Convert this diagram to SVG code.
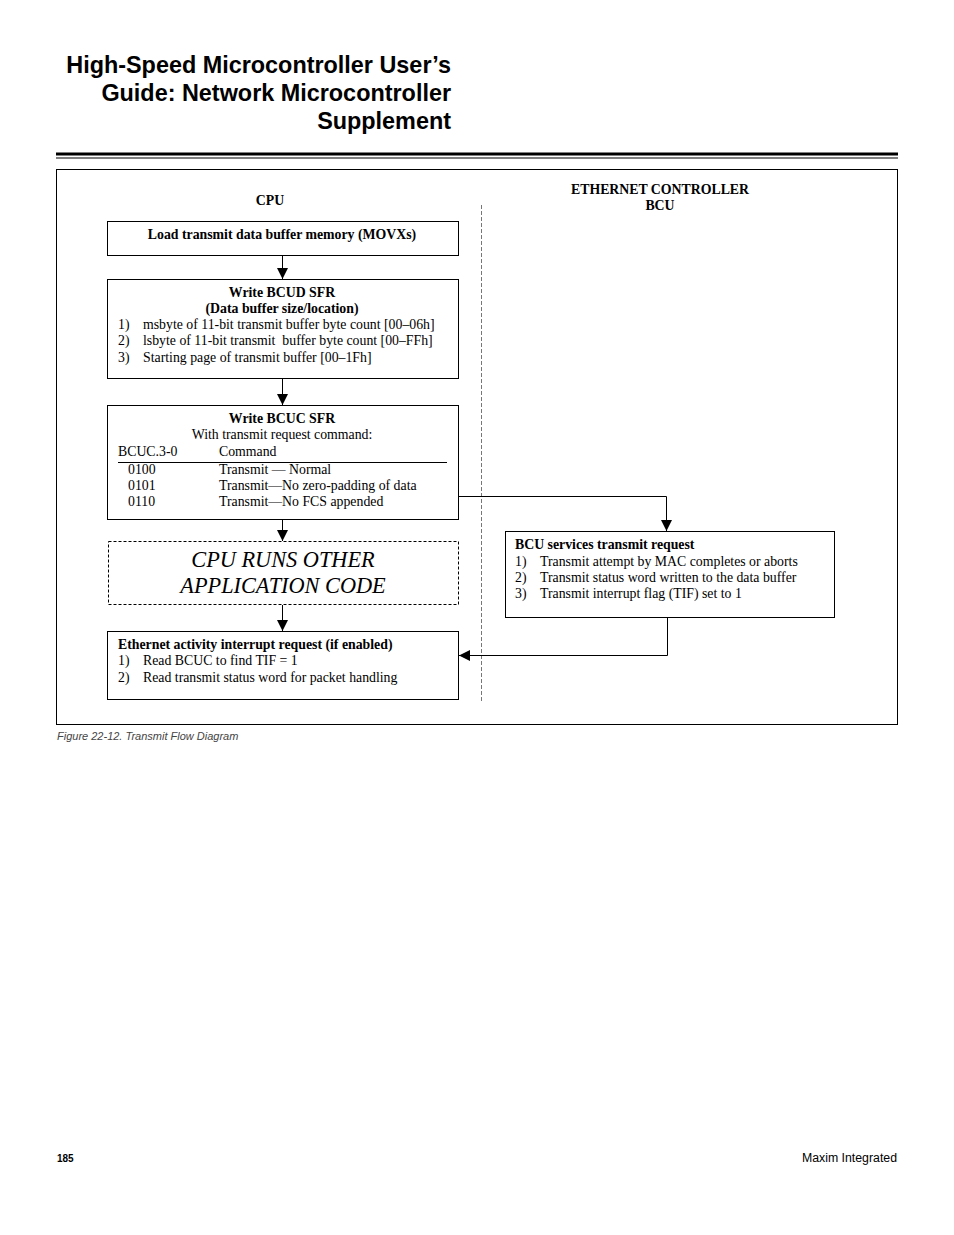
<svg xmlns="http://www.w3.org/2000/svg" width="954" height="1235" viewBox="0 0 954 1235">
<defs>
<marker id="ah" viewBox="0 0 10 10" refX="10" refY="5" markerWidth="11" markerHeight="11" markerUnits="userSpaceOnUse" orient="auto"><path d="M0,0 L10,5 L0,10 z" fill="#000"/></marker>
<style>
.t{font-family:"Liberation Serif",serif;font-size:13.8px;fill:#000}
.b{font-weight:bold}
.m{text-anchor:middle}
.box{fill:#fff;stroke:#000;stroke-width:1}
.dbox{fill:#fff;stroke:#000;stroke-width:1;stroke-dasharray:3,2}
.c{fill:none;stroke:#000;stroke-width:1;marker-end:url(#ah)}
.h{font-family:"Liberation Sans",Arial,sans-serif;font-weight:bold;font-size:23.4px;text-anchor:end;fill:#000}
</style>
</defs>
<rect width="954" height="1235" fill="#fff"/>
<g id="header">
<text class="h" x="451" y="73">High-Speed Microcontroller User’s</text>
<text class="h" x="451" y="101">Guide: Network Microcontroller</text>
<text class="h" x="451" y="129">Supplement</text>
<rect x="56" y="152.5" width="842" height="3" fill="#000"/>
<rect x="56" y="157.5" width="842" height="1" fill="#000"/>
</g>
<rect id="frame" x="56.5" y="169.5" width="841" height="555" fill="none" stroke="#000" stroke-width="1"/>
<line id="divider" x1="481.5" y1="205" x2="481.5" y2="703" stroke="#777" stroke-width="1" stroke-dasharray="4,2"/>
<g id="lane-labels">
<text class="t b m" x="270" y="205">CPU</text>
<text class="t b m" x="660" y="194">ETHERNET CONTROLLER</text>
<text class="t b m" x="660" y="210">BCU</text>
</g>
<g id="load">
<rect class="box" x="107.5" y="221.5" width="351" height="34"/>
<text class="t b m" x="282" y="239">Load transmit data buffer memory (MOVXs)</text>
</g>
<g id="bcud">
<rect class="box" x="107.5" y="279.5" width="351" height="99"/>
<text class="t b m" x="282" y="297">Write BCUD SFR</text>
<text class="t b m" x="282" y="313">(Data buffer size/location)</text>
<text class="t" x="118" y="329">1)</text><text class="t" x="143" y="329">msbyte of 11-bit transmit buffer byte count [00–06h]</text>
<text class="t" x="118" y="345">2)</text><text class="t" x="143" y="345" xml:space="preserve">lsbyte of 11-bit transmit  buffer byte count [00–FFh]</text>
<text class="t" x="118" y="362">3)</text><text class="t" x="143" y="362">Starting page of transmit buffer [00–1Fh]</text>
</g>
<g id="bcuc">
<rect class="box" x="107.5" y="405.5" width="351" height="114"/>
<text class="t b m" x="282" y="423">Write BCUC SFR</text>
<text class="t m" x="282" y="439">With transmit request command:</text>
<text class="t" x="118" y="456">BCUC.3-0</text><text class="t" x="219" y="456">Command</text>
<line x1="118" y1="462.5" x2="447" y2="462.5" stroke="#000" stroke-width="1"/>
<text class="t" x="128" y="474">0100</text><text class="t" x="219" y="474">Transmit — Normal</text>
<text class="t" x="128" y="490">0101</text><text class="t" x="219" y="490">Transmit—No zero-padding of data</text>
<text class="t" x="128" y="506">0110</text><text class="t" x="219" y="506">Transmit—No FCS appended</text>
</g>
<g id="other">
<rect class="dbox" x="108.5" y="541.5" width="350" height="63"/>
<text class="t m" x="283" y="567" style="font-size:22.3px;font-style:italic">CPU RUNS OTHER</text>
<text class="t m" x="283" y="593" style="font-size:22.3px;font-style:italic">APPLICATION CODE</text>
</g>
<g id="irq">
<rect class="box" x="107.5" y="631.5" width="351" height="68"/>
<text class="t b" x="118" y="649">Ethernet activity interrupt request (if enabled)</text>
<text class="t" x="118" y="665">1)</text><text class="t" x="143" y="665">Read BCUC to find TIF = 1</text>
<text class="t" x="118" y="682">2)</text><text class="t" x="143" y="682">Read transmit status word for packet handling</text>
</g>
<g id="bcu">
<rect class="box" x="505.5" y="531.5" width="329" height="86"/>
<text class="t b" x="515" y="549">BCU services transmit request</text>
<text class="t" x="515" y="566">1)</text><text class="t" x="540" y="566">Transmit attempt by MAC completes or aborts</text>
<text class="t" x="515" y="582">2)</text><text class="t" x="540" y="582">Transmit status word written to the data buffer</text>
<text class="t" x="515" y="598">3)</text><text class="t" x="540" y="598">Transmit interrupt flag (TIF) set to 1</text>
</g>
<g id="connectors">
<path class="c" d="M282.5,256 V279"/>
<path class="c" d="M282.5,379 V405"/>
<path class="c" d="M282.5,520 V541"/>
<path class="c" d="M282.5,605 V631"/>
<path class="c" d="M459,496.5 H666.5 V531"/>
<path class="c" d="M667.5,618 V655.5 H459"/>
</g>
<g id="footer">
<text x="57" y="740" style="font-family:'Liberation Sans',Arial,sans-serif;font-size:11px;font-style:italic;fill:#444">Figure 22-12. Transmit Flow Diagram</text>
<text x="57" y="1162" style="font-family:'Liberation Sans',Arial,sans-serif;font-size:10px;font-weight:bold">185</text>
<text x="897" y="1162" text-anchor="end" style="font-family:'Liberation Sans',Arial,sans-serif;font-size:12.3px">Maxim Integrated</text>
</g>
</svg>
